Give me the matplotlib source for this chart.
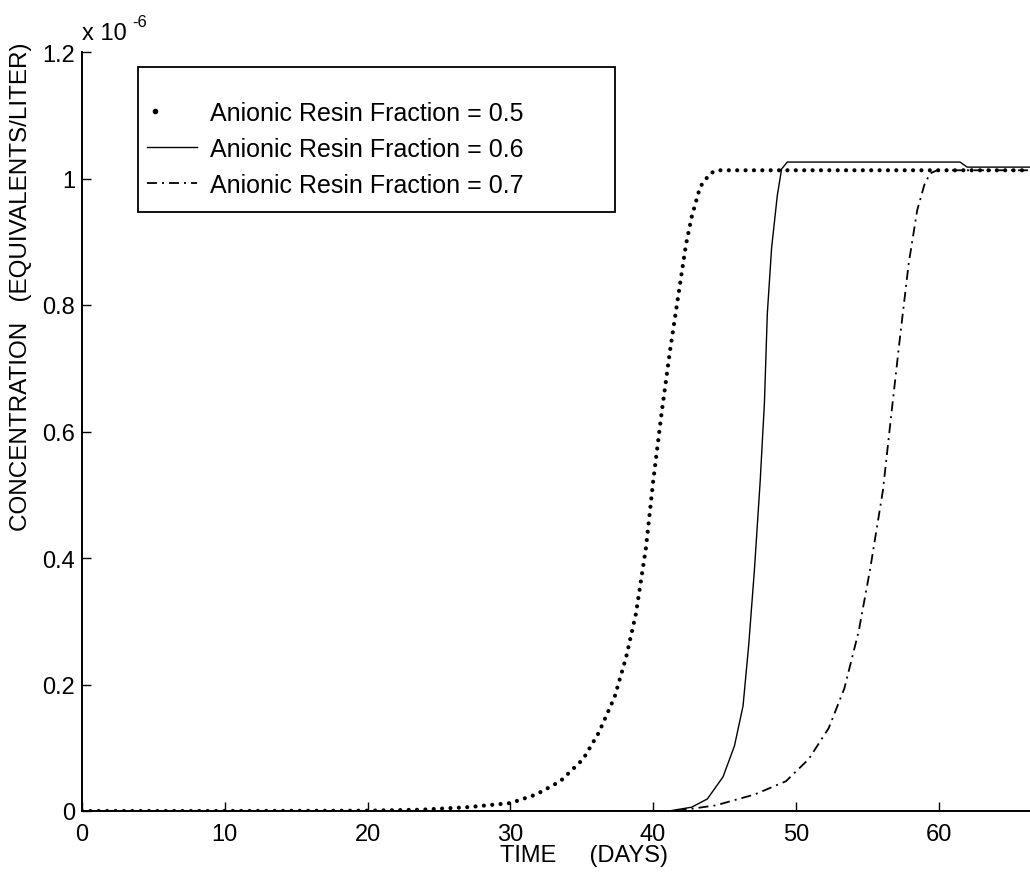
import matplotlib
matplotlib.use("Agg")
import matplotlib.pyplot as plt
from matplotlib.lines import Line2D
from matplotlib.patches import Rectangle
from matplotlib.ticker import FuncFormatter
from matplotlib.legend_handler import HandlerLine2D

plt.rcParams['font.family'] = ['Liberation Sans', 'DejaVu Sans']

# ---- data (concentration in units of 1e-6 equivalents/liter) ----
x_tick_values = [0, 10, 20, 30, 40, 50, 60]
y_tick_values = [0, 0.2, 0.4, 0.6, 0.8, 1.0, 1.2]

labels = ["Anionic Resin Fraction = 0.5",
          "Anionic Resin Fraction = 0.6",
          "Anionic Resin Fraction = 0.7"]

x05 = [0, 10, 20, 23.7, 27, 30, 31.8, 33.5, 35.1, 36.2, 37.3, 38.1, 38.8,
       39.5, 40.0, 40.6, 41.2, 41.8, 42.3, 42.7, 43.3, 44.0, 44.5, 66.4]
y05 = [0, 0, 0.0005, 0.002, 0.006, 0.0125, 0.026, 0.047, 0.082, 0.124,
       0.18, 0.242, 0.312, 0.416, 0.52, 0.63, 0.73, 0.82, 0.895, 0.939,
       0.987, 1.008, 1.013, 1.013]

x06 = [0, 41.1, 42.7, 43.8, 44.9, 45.7, 46.3, 46.7, 47.1, 47.5, 47.8, 48.0,
       48.3, 48.7, 49.0, 49.4, 61.5, 62.0, 66.4]
y06 = [0, 0, 0.006, 0.019, 0.054, 0.103, 0.166, 0.263, 0.382, 0.521, 0.646,
       0.786, 0.890, 0.973, 1.015, 1.026, 1.026, 1.018, 1.018]

x07 = [0, 41.6, 44.4, 47.1, 49.3, 50.9, 52.3, 53.4, 54.4, 55.2, 56.1, 56.7,
       57.3, 57.9, 58.5, 59.0, 59.4, 59.9, 66.4]
y07 = [0, 0, 0.009, 0.026, 0.047, 0.082, 0.131, 0.194, 0.284, 0.382, 0.507,
       0.63, 0.75, 0.865, 0.95, 0.99, 1.008, 1.013, 1.013]


class LeftDotHandler(HandlerLine2D):
    """Legend handler that shows a single marker near the left of the handle."""
    def create_artists(self, legend, orig_handle, xdescent, ydescent,
                       width, height, fontsize, trans):
        x = -xdescent + 0.3 * fontsize
        y = (height - ydescent) / 2
        mark = Line2D([x], [y])
        self.update_prop(mark, orig_handle, legend)
        mark.set_transform(trans)
        return [mark]


# ---- figure ----
W, H = 1030, 878
fig = plt.figure(figsize=(W / 100, H / 100), dpi=100)
ax = fig.add_axes([82 / W, 66 / H, (W - 82) / W, 759 / H])

dot_style = dict(color='k', lw=3.0, ls=(0, (0.01, 2.0)), dash_capstyle='round')
ax.plot(x05, y05, **dot_style)
ax.plot(x06, y06, color='k', lw=1.0)
dashdot = (0, (5.5, 2.8, 1.1, 2.8))
ax.plot(x07, y07, color='k', lw=1.3, ls=dashdot)

ax.set_xlim(0, 66.4)
ax.set_ylim(0, 1.2)
ax.set_xticks(x_tick_values)
ax.set_yticks(y_tick_values)
ax.yaxis.set_major_formatter(FuncFormatter(lambda v, p: '%g' % round(v, 3)))
ax.xaxis.set_major_formatter(FuncFormatter(lambda v, p: '%g' % v))

for s in ['top', 'right']:
    ax.spines[s].set_visible(False)
for s in ['left', 'bottom']:
    ax.spines[s].set_linewidth(1.4)
ax.tick_params(direction='in', length=6.5, width=1.0, labelsize=17, colors='k')
ax.tick_params(axis='y', pad=5)
ax.tick_params(axis='x', pad=9)

ax.set_xlabel("TIME     (DAYS)", fontsize=17)
ax.xaxis.set_label_coords((584 - 82) / 948, (812 - 845) / 759)
ax.xaxis.label.set_va('top')
ax.set_ylabel("CONCENTRATION   (EQUIVALENTS/LITER)", fontsize=17.5)
ax.yaxis.set_label_coords((32 - 82) / 948, (812 - 287) / 759)

fig.text(82 / W, 1 - 40 / H, "x 10", fontsize=17, ha='left', va='baseline')
fig.text(132 / W, 1 - 27 / H, "-6", fontsize=12, ha='left', va='baseline')

# legend
h_dot = Line2D([], [], color='k', marker='.', ms=6, ls='none')
handles = [h_dot,
           Line2D([], [], color='k', lw=1.0),
           Line2D([], [], color='k', lw=1.3, ls=dashdot)]
leg = ax.legend(handles, labels, loc='upper left', frameon=False,
                bbox_to_anchor=(147 / W, 1 - 102 / H), bbox_transform=fig.transFigure,
                fontsize=18, handlelength=2.0, handletextpad=0.5,
                labelspacing=0.48, borderpad=0, borderaxespad=0,
                handler_map={h_dot: LeftDotHandler()})
rect = Rectangle((138 / W, 1 - 213 / H), (615 - 138) / W, (213 - 68) / H,
                 transform=fig.transFigure, fill=False, ec='k', lw=1.3)
fig.patches.append(rect)

fig.savefig("out.png", dpi=100)
